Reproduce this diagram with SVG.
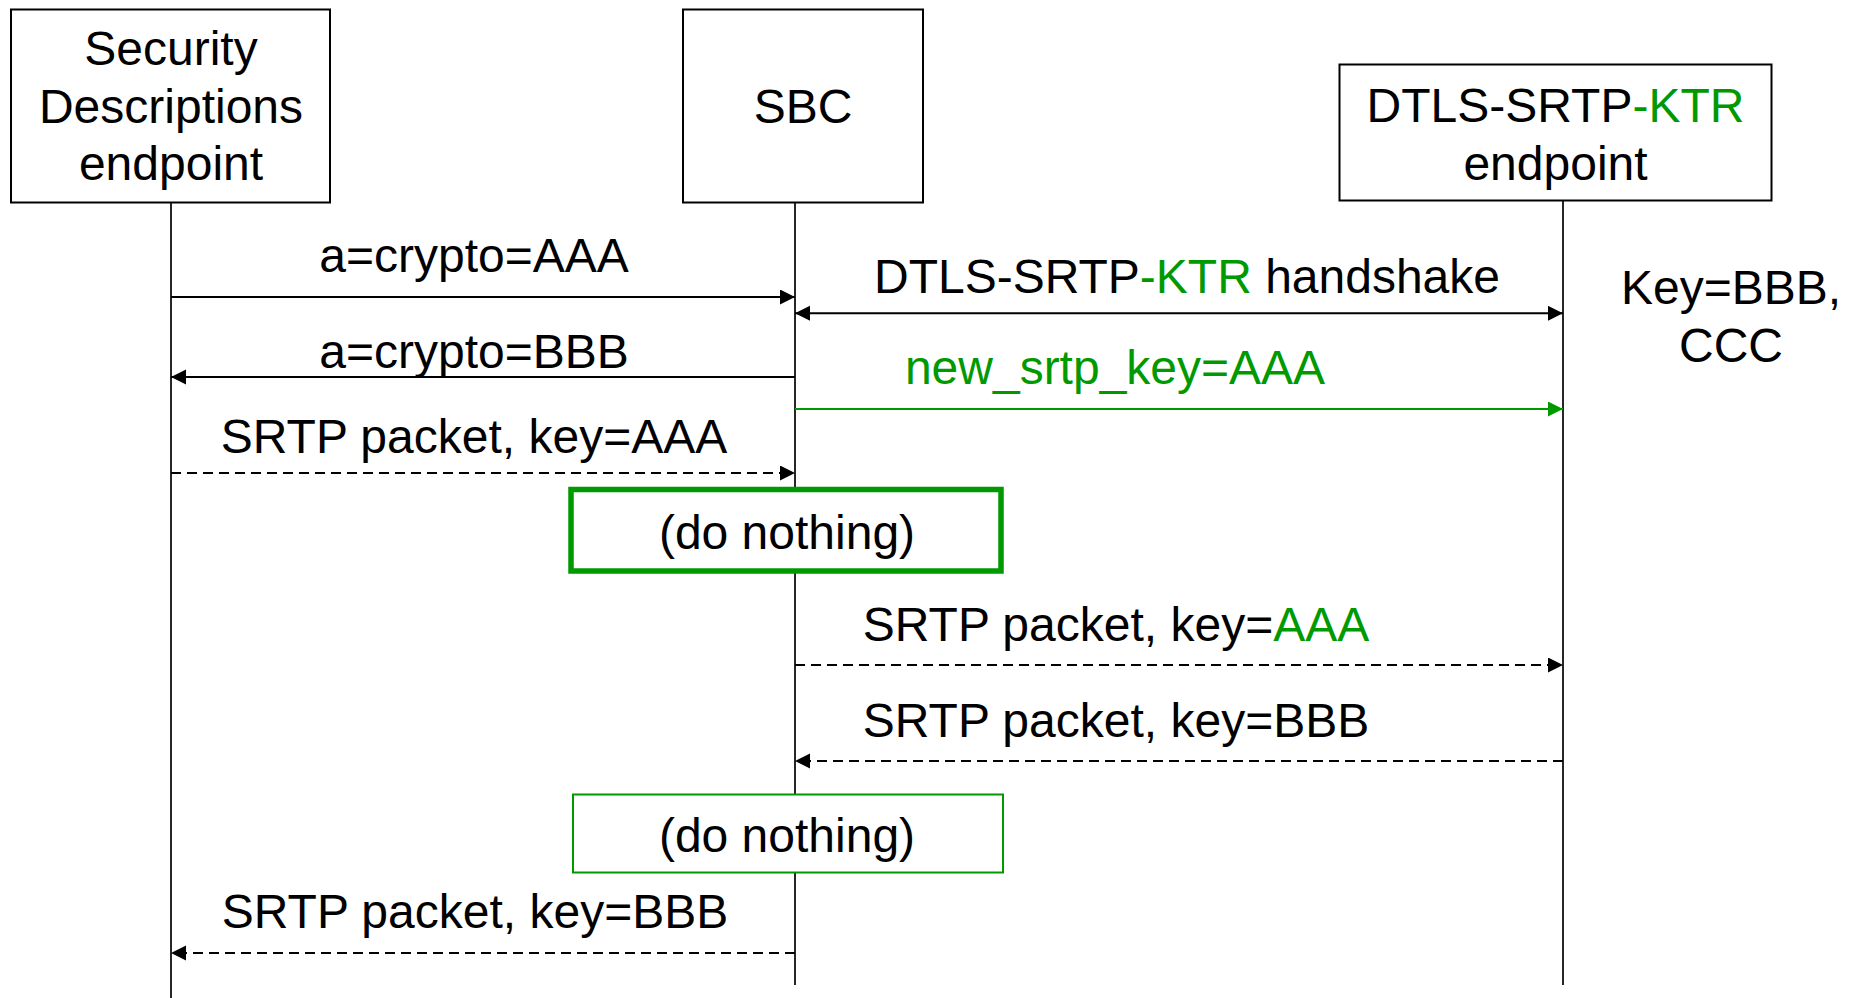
<svg xmlns="http://www.w3.org/2000/svg" width="1858" height="998" viewBox="0 0 1858 998">
<style>
text{font-family:"Liberation Sans",Arial,sans-serif;font-size:48px;fill:#000;text-anchor:middle}
.g{fill:#009900}
.box{fill:#fff;stroke:#000;stroke-width:2}
.life{stroke:#000;stroke-width:1.7;fill:none}
.msg{stroke:#000;stroke-width:2;fill:none}
.dash{stroke-dasharray:10 6}
.gm{stroke:#009900}
</style>
<defs>
<marker id="ah" markerUnits="userSpaceOnUse" markerWidth="16" markerHeight="16" refX="15" refY="7.5" orient="auto-start-reverse"><path d="M0,0 L15,7.5 L0,15 z" fill="#000"/></marker>
<marker id="ahg" markerUnits="userSpaceOnUse" markerWidth="16" markerHeight="16" refX="15" refY="7.5" orient="auto"><path d="M0,0 L15,7.5 L0,15 z" fill="#009900"/></marker>
</defs>
<rect width="1858" height="998" fill="#fff"/>
<g id="lifelines">
<line class="life" x1="171" y1="203" x2="171" y2="998"/>
<line class="life" x1="795" y1="203" x2="795" y2="985"/>
<line class="life" x1="1563" y1="201" x2="1563" y2="985"/>
</g>
<g id="node-sd">
<rect class="box" x="11" y="9.5" width="319" height="193"/>
<text x="171" y="65">Security</text>
<text x="171" y="123">Descriptions</text>
<text x="171" y="180">endpoint</text>
</g>
<g id="node-sbc">
<rect class="box" x="683" y="9.5" width="240" height="193"/>
<text x="803" y="123">SBC</text>
</g>
<g id="node-dtls">
<rect class="box" x="1339.5" y="64.5" width="432" height="136"/>
<text x="1555.5" y="122">DTLS-SRTP<tspan class="g">-KTR</tspan></text>
<text x="1555.5" y="180">endpoint</text>
</g>
<g id="connectors">
<line class="msg" x1="171" y1="297" x2="795" y2="297" marker-end="url(#ah)"/>
<line class="msg" x1="795" y1="313.3" x2="1563" y2="313.3" marker-start="url(#ah)" marker-end="url(#ah)"/>
<line class="msg" x1="795" y1="377" x2="171" y2="377" marker-end="url(#ah)"/>
<line class="msg gm" x1="795" y1="409" x2="1563" y2="409" marker-end="url(#ahg)"/>
<line class="msg dash" x1="171" y1="473" x2="795" y2="473" marker-end="url(#ah)"/>
<line class="msg dash" x1="795" y1="665" x2="1563" y2="665" marker-end="url(#ah)"/>
<line class="msg dash" x1="1563" y1="761" x2="795" y2="761" marker-end="url(#ah)"/>
<line class="msg dash" x1="795" y1="953" x2="171" y2="953" marker-end="url(#ah)"/>
</g>
<g id="labels">
<text x="474" y="272">a=crypto=AAA</text>
<text x="1187" y="293">DTLS-SRTP<tspan class="g">-KTR</tspan> handshake</text>
<text x="474" y="368">a=crypto=BBB</text>
<text class="g" x="1115" y="384">new_srtp_key=AAA</text>
<text x="474" y="453">SRTP packet, key=AAA</text>
<text x="1116" y="641">SRTP packet, key=<tspan class="g">AAA</tspan></text>
<text x="1116" y="737">SRTP packet, key=BBB</text>
<text x="475" y="928">SRTP packet, key=BBB</text>
</g>
<g id="node-keys">
<text x="1731" y="304">Key=BBB,</text>
<text x="1731" y="362">CCC</text>
</g>
<g id="node-donothing1">
<rect x="571" y="489.5" width="430" height="81.5" fill="#fff" stroke="#009900" stroke-width="5.5"/>
<text x="787" y="549">(do nothing)</text>
</g>
<g id="node-donothing2">
<rect x="573" y="794.5" width="430" height="78" fill="#fff" stroke="#009900" stroke-width="2"/>
<text x="787" y="852">(do nothing)</text>
</g>
</svg>
